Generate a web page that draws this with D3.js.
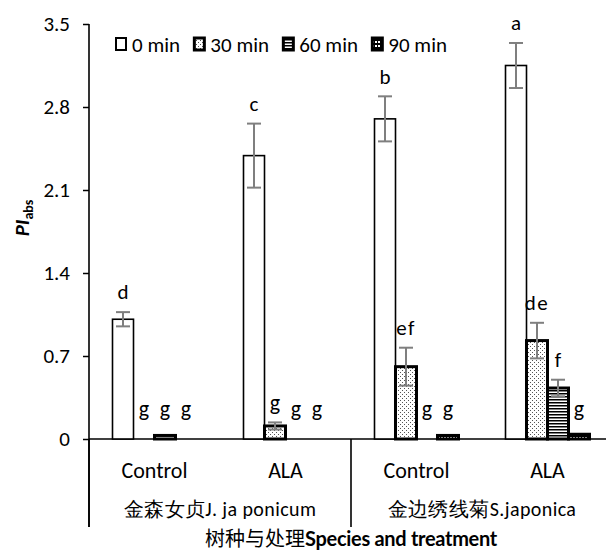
<!DOCTYPE html>
<html>
<head>
<meta charset="utf-8">
<script src="https://cdn.jsdelivr.net/npm/d3@7"></script>
<style>
  html, body { margin: 0; padding: 0; background: #fff; }
  svg { display: block; }
  text { font-family: Carlito, Lato, "Noto Sans", sans-serif; fill: #000; }
</style>
</head>
<body>
<svg id="chart" width="606" height="551"></svg>
<script>
// Treatment levels (x categories) and species (second-level labels)
const categories = ["Control", "ALA", "Control", "ALA"];
const species = ["金森女贞J. ja ponicum", "金边绣线菊S.japonica"];
const series = ["0 min", "30 min", "60 min", "90 min"];

// PI_abs means per series, one value per category
const v0  = [1.01, 2.39, 2.70, 3.15];
const v30 = [0.00, 0.11, 0.61, 0.83];
const v60 = [0.03, 0.00, 0.00, 0.43];
const v90 = [0.00, 0.00, 0.03, 0.04];

// Standard errors
const e0  = [0.06, 0.27, 0.19, 0.19];
const e30 = [0.00, 0.03, 0.16, 0.15];
const e60 = [0.00, 0.00, 0.00, 0.07];
const e90 = [0.00, 0.00, 0.00, 0.00];

// Significance letters
const l0  = ["d", "c", "b", "a"];
const l30 = ["g", "g", "ef", "de"];
const l60 = ["g", "g", "g", "f"];
const l90 = ["g", "g", "g", "g"];

const yTicks = [0, 0.7, 1.4, 2.1, 2.8, 3.5];
const yTickLabels = ["0", "0.7", "1.4", "2.1", "2.8", "3.5"];

const values = [v0, v30, v60, v90];
const errors = [e0, e30, e60, e90];
const letters = [l0, l30, l60, l90];
const fills = ["#fff", "url(#p30)", "url(#p60)", "url(#p90)"];
const strokeW = [1.6, 3, 3, 3];

const svg = d3.select("#chart");
const plotLeft = 89, plotRight = 613, plotTop = 24, plotBase = 439;

// fill patterns
const defs = svg.append("defs");
const p30 = defs.append("pattern").attr("id", "p30").attr("patternUnits", "userSpaceOnUse")
  .attr("width", 4).attr("height", 4);
p30.append("rect").attr("width", 4).attr("height", 4).attr("fill", "#fff");
p30.append("rect").attr("x", 0).attr("y", 0).attr("width", 1).attr("height", 1).attr("fill", "#555");
p30.append("rect").attr("x", 2).attr("y", 2).attr("width", 1).attr("height", 1).attr("fill", "#555");

const p60 = defs.append("pattern").attr("id", "p60").attr("patternUnits", "userSpaceOnUse")
  .attr("width", 4).attr("height", 3);
p60.append("rect").attr("width", 4).attr("height", 3).attr("fill", "#fff");
p60.append("rect").attr("width", 4).attr("height", 1.5).attr("fill", "#000");

const p90 = defs.append("pattern").attr("id", "p90").attr("patternUnits", "userSpaceOnUse")
  .attr("width", 6).attr("height", 4);
p90.append("rect").attr("width", 6).attr("height", 4).attr("fill", "#000");
p90.append("rect").attr("x", 0).attr("y", 1).attr("width", 2).attr("height", 2).attr("fill", "#fff");
p90.append("rect").attr("x", 3).attr("y", 1).attr("width", 2).attr("height", 2).attr("fill", "#fff");

// scales
const x0 = d3.scaleBand().domain(d3.range(categories.length)).range([plotLeft, plotRight]).padding(0);
const x1 = d3.scaleBand().domain(series).range([0, x0.bandwidth()]).paddingInner(0).paddingOuter(1.119);
const y = d3.scaleLinear().domain([0, 3.5]).range([plotBase, plotTop]);

// y axis
const yAxis = d3.axisLeft(y).tickValues(yTicks).tickSize(6).tickPadding(13)
  .tickFormat((d, i) => yTickLabels[i]);
const gy = svg.append("g").attr("transform", `translate(${plotLeft},0)`).call(yAxis);
gy.select(".domain").remove();
gy.selectAll(".tick line").attr("stroke", "#000").attr("stroke-width", 1.5);
gy.selectAll(".tick text").attr("font-size", 21).attr("font-family", "Carlito, Lato, sans-serif").attr("fill", "#000");

// axis lines and category dividers
svg.append("line").attr("x1", plotLeft).attr("x2", plotLeft).attr("y1", plotTop).attr("y2", 527)
  .attr("stroke", "#000").attr("stroke-width", 1.6);
svg.append("line").attr("x1", plotLeft).attr("x2", 606).attr("y1", plotBase).attr("y2", plotBase)
  .attr("stroke", "#000").attr("stroke-width", 1.6);
[x0(0), x0(2), plotRight].forEach(xx => {
  svg.append("line").attr("x1", xx).attr("x2", xx).attr("y1", plotBase).attr("y2", 527)
    .attr("stroke", "#000").attr("stroke-width", 1.6);
});

// bars
const g = svg.append("g");
categories.forEach((c, ci) => {
  series.forEach((s, si) => {
    const v = values[si][ci];
    const bx = x0(ci) + x1(s);
    const bw = x1.bandwidth();
    if (v > 0) {
      g.append("rect")
        .attr("x", bx).attr("y", y(v))
        .attr("width", bw).attr("height", y(0) - y(v))
        .attr("fill", fills[si]).attr("stroke", "#000").attr("stroke-width", strokeW[si]);
    }
  });
});

// error bars
categories.forEach((c, ci) => {
  series.forEach((s, si) => {
    const v = values[si][ci], e = errors[si][ci];
    if (e <= 0) return;
    const cx = x0(ci) + x1(s) + x1.bandwidth() / 2;
    const eg = svg.append("g").attr("stroke", "#7f7f7f").attr("stroke-width", 2);
    eg.append("line").attr("x1", cx).attr("x2", cx).attr("y1", y(v + e)).attr("y2", y(v - e));
    eg.append("line").attr("x1", cx - 7).attr("x2", cx + 7).attr("y1", y(v + e)).attr("y2", y(v + e));
    eg.append("line").attr("x1", cx - 7).attr("x2", cx + 7).attr("y1", y(v - e)).attr("y2", y(v - e));
  });
});

// significance letters
categories.forEach((c, ci) => {
  series.forEach((s, si) => {
    const v = values[si][ci], e = errors[si][ci];
    const lab = letters[si][ci];
    const cx = x0(ci) + x1(s) + x1.bandwidth() / 2;
    const cy = Math.min(y(v + e) - 20, y(0) - 31);
    svg.append("text")
      .attr("x", cx).attr("y", cy).attr("dy", "0.35em")
      .attr("text-anchor", "middle")
      .attr("font-size", lab === "g" ? 22 : 21)
      .attr("letter-spacing", lab.length > 1 ? 1.5 : 0)
      .attr("font-family", lab === "g" ? "'Liberation Serif', serif" : "Carlito, Lato, sans-serif")
      .text(lab);
  });
});

// category labels
categories.forEach((c, ci) => {
  svg.append("text").attr("x", x0(ci) + x0.bandwidth() / 2).attr("y", 478)
    .attr("text-anchor", "middle").attr("font-size", 22).text(c);
});
species.forEach((sp, i) => {
  svg.append("text").attr("x", (x0(i * 2) + x0(i * 2 + 1) + x0.bandwidth()) / 2).attr("y", 516)
    .attr("text-anchor", "middle").attr("font-size", 20).attr("letter-spacing", 0.4)
    .attr("font-family", "Lato, 'Noto Sans CJK SC', sans-serif").text(sp);
});

// axis title
const title = svg.append("text").attr("x", (plotLeft + plotRight) / 2).attr("y", 546)
  .attr("text-anchor", "middle").attr("font-size", 20);
title.append("tspan").attr("font-family", "'Noto Sans CJK SC', sans-serif").text("树种与处理");
title.append("tspan").attr("font-weight", "bold").attr("letter-spacing", -0.3)
  .attr("font-family", "Lato, sans-serif").text("Species and treatment");

const ylab = svg.append("text").attr("transform", "translate(29,218) rotate(-90)")
  .attr("text-anchor", "middle").attr("font-weight", "bold");
ylab.append("tspan").attr("font-size", 21).attr("font-style", "italic").text("PI");
ylab.append("tspan").attr("font-size", 14).attr("dy", 4).text("abs");

// legend: boxes and labels laid out in one row between legStart and legEnd
const legStart = 115, legEnd = 447, boxSize = 12, boxGap = 5;
const legItems = series.map((s, i) => {
  const t = svg.append("text").attr("y", 52).attr("font-size", 21).text(s);
  return { t, w: t.node().getComputedTextLength(), i };
});
const usedW = d3.sum(legItems, d => boxSize + boxGap + d.w);
const itemGap = (legEnd - legStart - usedW) / (legItems.length - 1);
let lx = legStart;
legItems.forEach(d => {
  svg.append("rect").attr("x", lx + 1).attr("y", 38).attr("width", boxSize - 2).attr("height", boxSize)
    .attr("fill", fills[d.i]).attr("stroke", "#000").attr("stroke-width", d.i === 0 ? 2 : 3);
  d.t.attr("x", lx + boxSize + boxGap);
  lx += boxSize + boxGap + d.w + itemGap;
});
</script>
</body>
</html>
